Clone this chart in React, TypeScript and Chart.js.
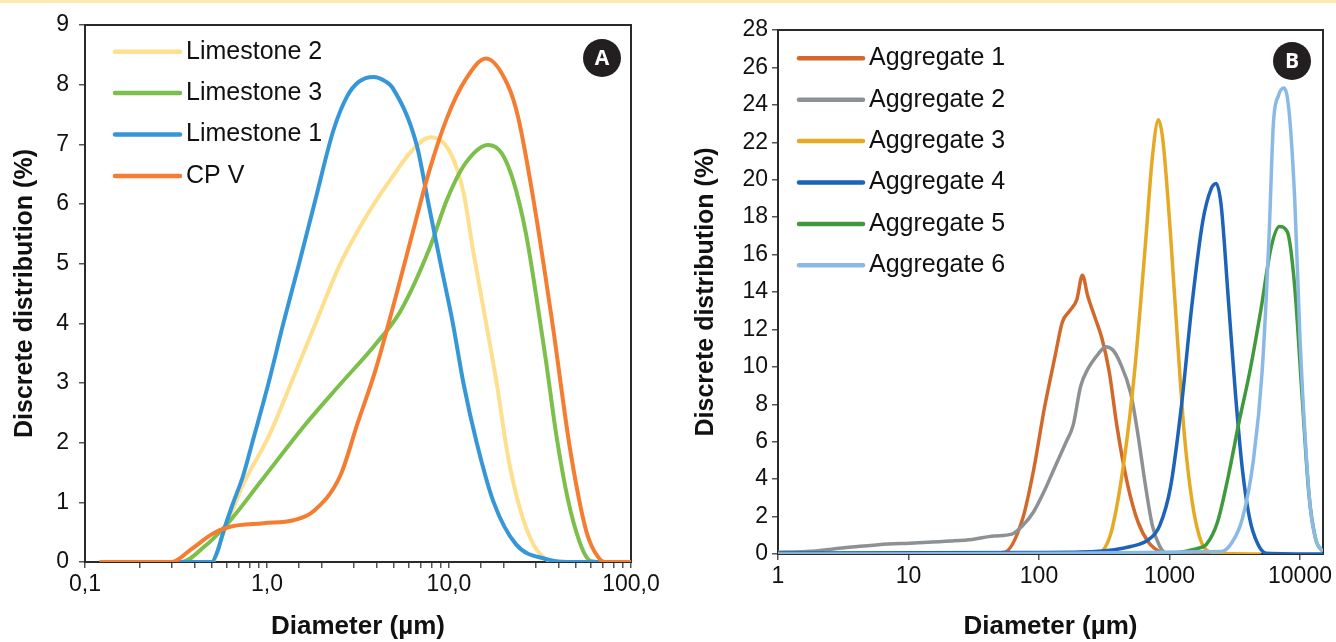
import React, { useEffect, useRef } from "react";
import { Chart, registerables } from "chart.js";

Chart.register(...registerables);

const FONT = "'Liberation Sans', Arial, Helvetica, sans-serif";

// ---------------- Panel A : fines (diameter in µm, discrete distribution in %) ----------------
const limestone2Diam = [0.3, 0.45, 0.497, 0.58, 0.74, 1.02, 1.4, 1.85, 2.53, 3.6, 5.0, 6.2, 7.9, 10, 12, 13.6, 16, 18.5, 21, 24.5, 29, 34, 38];
const limestone2Val = [0, 0, 0, 0.5, 1.3, 2.1, 3.1, 4.0, 5.0, 5.85, 6.5, 6.88, 7.12, 6.9, 6.2, 5.2, 4.0, 2.9, 1.8, 0.9, 0.3, 0.05, 0];

const limestone3Diam = [0.3, 0.34, 0.45, 0.61, 0.935, 1.6, 2.51, 3.95, 5.4, 7.8, 9.8, 12.3, 16.4, 19.5, 22.5, 26.5, 30, 34, 39, 45, 52, 58, 64];
const limestone3Val = [0, 0, 0.25, 0.65, 1.37, 2.28, 2.97, 3.65, 4.2, 5.25, 6.09, 6.68, 6.99, 6.85, 6.4, 5.5, 4.5, 3.4, 2.1, 1.05, 0.35, 0.05, 0];

const limestone1Diam = [0.3, 0.45, 0.497, 0.53, 0.58, 0.65, 0.74, 0.83, 1.02, 1.23, 1.5, 1.82, 2.32, 2.75, 3.2, 3.85, 4.5, 4.89, 6.63, 7.72, 8.99, 10.5, 12.0, 14.2, 17.6, 23.3, 34, 45, 75];
const limestone1Val = [0, 0, 0, 0.15, 0.54, 0.98, 1.45, 2.0, 3.0, 4.0, 5.0, 6.0, 7.24, 7.8, 8.05, 8.13, 8.05, 7.95, 7.0, 6.0, 5.0, 4.0, 3.0, 2.0, 1.0, 0.3, 0.05, 0, 0];

const cpvDiam = [0.12, 0.2, 0.3, 0.378, 0.508, 0.626, 0.956, 1.4, 1.8, 2.53, 3.15, 3.95, 4.95, 6.2, 7.8, 9.8, 12.3, 16, 21, 24, 29, 37, 46.5, 57, 66, 72, 100];
const cpvVal = [0, 0, 0, 0.2, 0.48, 0.59, 0.65, 0.7, 0.85, 1.45, 2.33, 3.22, 4.3, 5.43, 6.56, 7.46, 8.08, 8.44, 8.0, 7.45, 6.1, 4.0, 1.85, 0.5, 0.08, 0, 0];

const panelALabels = ["Limestone 2", "Limestone 3", "Limestone 1", "CP V"];
const panelAColors = ["#fddf8d", "#7cbf4a", "#3597d8", "#f47d31"];
const panelAXTicks = [0.1, 1, 10, 100];
const panelAXTickLabels = ["0,1", "1,0", "10,0", "100,0"];

// ---------------- Panel B : aggregates ----------------
const agg1Diam = [1, 30, 54.6, 75, 91, 110, 133, 151, 172, 195, 215, 236, 268, 304, 346, 394, 476, 574, 695, 841, 1017, 2000];
const agg1Val = [0, 0, 0.1, 1.9, 4.5, 7.8, 10.6, 12.4, 13.0, 13.6, 14.9, 13.8, 12.65, 11.5, 9.7, 6.9, 3.75, 1.7, 0.6, 0.13, 0, 0];

const agg2Diam = [1, 1.65, 3.1, 5.9, 11.1, 21, 30.8, 45, 62, 75, 91, 110, 133, 161, 183, 208, 236, 285, 324, 368, 417, 505, 574, 651, 739, 841, 930, 1000];
const agg2Val = [0.1, 0.13, 0.32, 0.5, 0.59, 0.69, 0.78, 0.96, 1.06, 1.52, 2.26, 3.38, 4.68, 5.97, 6.9, 8.94, 9.87, 10.7, 11.08, 10.9, 10.24, 8.57, 6.35, 3.75, 1.52, 0.41, 0.04, 0];

const agg3Diam = [1, 268, 324, 368, 446, 539, 651, 739, 822, 890, 1017, 1150, 1300, 1490, 1690, 1910, 2330, 5000];
const agg3Val = [0, 0, 0.4, 1.52, 4.86, 9.7, 16.4, 21.2, 23.2, 22.1, 17.1, 11.5, 6.35, 2.8, 0.96, 0.22, 0.04, 0];

const agg4Diam = [1, 100, 268, 505, 695, 841, 1017, 1230, 1490, 1800, 2080, 2280, 2490, 2810, 3200, 3620, 4110, 4700, 5500, 15000];
const agg4Val = [0.05, 0.08, 0.13, 0.4, 0.78, 1.52, 3.56, 7.83, 13.4, 17.8, 19.5, 19.8, 18.6, 13.8, 8.57, 4.5, 1.9, 0.6, 0.04, 0];

const agg5Diam = [1, 959, 1300, 1690, 1910, 2330, 2810, 3420, 4110, 5000, 6010, 6960, 8000, 9100, 10300, 11700, 13200, 15000];
const agg5Val = [0, 0, 0.13, 0.32, 0.5, 1.7, 4.1, 7.1, 9.7, 13.0, 16.4, 17.5, 17.2, 14.3, 8.76, 3.2, 0.78, 0.13];

const agg6Diam = [1, 2490, 3000, 3620, 4400, 5120, 5800, 6250, 6840, 7520, 8200, 9100, 10000, 11000, 12000, 13200, 15000];
const agg6Val = [0, 0.13, 0.6, 1.9, 5.05, 9.7, 17.1, 23.0, 24.5, 24.9, 23.8, 19.0, 11.5, 6.0, 2.45, 0.78, 0.13];

const panelBLabels = ["Aggregate 1", "Aggregate 2", "Aggregate 3", "Aggregate 4", "Aggregate 5", "Aggregate 6"];
const panelBColors = ["#d2692b", "#8d9194", "#e6a923", "#1d63b7", "#3f9a3d", "#8bb9e6"];
const panelBXTicks = [1, 10, 100, 1000, 10000];
const panelBXTickLabels = ["1", "10", "100", "1000", "10000"];

const yTitle = "Discrete distribution (%)";
const xTitle = "Diameter (µm)";

type Series = { label: string; color: string; d: number[]; v: number[] };

function pts(d: number[], v: number[]) {
  return d.map((x, i) => ({ x, y: v[i] }));
}

const decorPlugin = {
  id: "decor",
  beforeDatasetsDraw(chart: any) {
    const { ctx, chartArea: a } = chart;
    ctx.save();
    ctx.strokeStyle = "#2a2a2a";
    ctx.lineWidth = 2;
    ctx.strokeRect(a.left, a.top, a.right - a.left, a.bottom - a.top);
    ctx.restore();
  },
  afterDatasetsDraw(chart: any, _a: any, o: any) {
    const { ctx, chartArea: a } = chart;
    const L = o.legend;
    ctx.save();
    ctx.lineCap = "round";
    chart.data.datasets.forEach((ds: any, i: number) => {
      const y = a.top + L.dy + i * L.gap;
      ctx.strokeStyle = ds.borderColor;
      ctx.lineWidth = L.lw;
      ctx.beginPath();
      ctx.moveTo(a.left + L.dx, y);
      ctx.lineTo(a.left + L.dx + L.len, y);
      ctx.stroke();
      ctx.fillStyle = "#111";
      ctx.font = `${L.size}px ${FONT}`;
      ctx.textAlign = "left";
      ctx.textBaseline = "middle";
      ctx.fillText(ds.label, a.left + L.textDx, y);
    });
    const B = o.badge;
    const cx = a.right + B.dx;
    const cy = a.top + B.dy;
    ctx.fillStyle = "#231f20";
    ctx.beginPath();
    ctx.arc(cx, cy, B.r, 0, Math.PI * 2);
    ctx.fill();
    ctx.fillStyle = "#fff";
    ctx.font = `bold ${B.size}px 'Open Sans', ${FONT}`;
    ctx.textAlign = "center";
    ctx.textBaseline = "middle";
    ctx.fillText(B.letter, cx, cy + 1);
    ctx.restore();
  },
};

type PanelProps = {
  left: number;
  width: number;
  series: Series[];
  xMin: number;
  xMax: number;
  yMax: number;
  yStep: number;
  xTicks: number[];
  xTickLabels: string[];
  onlyMajor: boolean;
  padTop: number;
  padRight: number;
  yAxisWidth: number;
  xAxisHeight: number;
  yTitlePad: number;
  yTickPad: number;
  lineWidth: number;
  legend: any;
  badge: any;
};

function Panel(p: PanelProps) {
  const ref = useRef<HTMLCanvasElement>(null);
  useEffect(() => {
    const n = p.series.length;
    const tickColor = "#555";
    const chart = new Chart(ref.current as HTMLCanvasElement, {
      type: "line",
      data: {
        datasets: p.series.map((s, i) => ({
          label: s.label,
          data: pts(s.d, s.v),
          borderColor: s.color,
          backgroundColor: s.color,
          borderWidth: p.lineWidth,
          pointRadius: 0,
          cubicInterpolationMode: "monotone",
          fill: false,
          order: n - i,
        })),
      },
      options: {
        responsive: false,
        animation: false,
        events: [],
        layout: { padding: { top: p.padTop, right: p.padRight, left: 0, bottom: 0 } },
        plugins: {
          legend: { display: false },
          tooltip: { enabled: false },
          decor: { legend: p.legend, badge: p.badge },
        } as any,
        scales: {
          x: {
            type: "logarithmic",
            min: p.xMin,
            max: p.xMax,
            afterFit: (s: any) => {
              s.height = p.xAxisHeight;
            },
            afterBuildTicks: (s: any) => {
              if (p.onlyMajor) s.ticks = p.xTicks.map((v) => ({ value: v }));
            },
            grid: { display: true, drawOnChartArea: false, drawTicks: true, tickLength: 6, color: tickColor, lineWidth: 1.5 },
            border: { display: true, color: "#2a2a2a", width: 2 },
            ticks: {
              autoSkip: false,
              maxRotation: 0,
              minRotation: 0,
              padding: 3,
              color: "#111",
              font: { family: FONT, size: 23 },
              callback: (value: any) => {
                const idx = p.xTicks.findIndex((t) => Math.abs(t - value) / t < 1e-6);
                return idx >= 0 ? p.xTickLabels[idx] : "";
              },
            },
            title: {
              display: true,
              text: xTitle,
              color: "#111",
              font: { family: FONT, size: 26, weight: "bold" },
              padding: { top: 0, bottom: 0 },
            },
          },
          y: {
            type: "linear",
            min: 0,
            max: p.yMax,
            afterFit: (s: any) => {
              s.width = p.yAxisWidth;
            },
            grid: { display: true, drawOnChartArea: false, drawTicks: true, tickLength: 6, color: tickColor, lineWidth: 1.5 },
            border: { display: true, color: "#2a2a2a", width: 2 },
            ticks: {
              stepSize: p.yStep,
              padding: p.yTickPad,
              color: "#111",
              font: { family: FONT, size: 23 },
            },
            title: {
              display: true,
              text: yTitle,
              color: "#111",
              font: { family: FONT, size: 25, weight: "bold" },
              padding: { top: p.yTitlePad, bottom: 0 },
            },
          },
        },
      } as any,
      plugins: [decorPlugin as any],
    });
    return () => chart.destroy();
  }, []);
  return (
    <canvas
      ref={ref}
      width={p.width}
      height={642}
      style={{ position: "absolute", left: p.left, top: 0, width: p.width, height: 642 }}
    />
  );
}

const seriesA: Series[] = [
  { label: panelALabels[0], color: panelAColors[0], d: limestone2Diam, v: limestone2Val },
  { label: panelALabels[1], color: panelAColors[1], d: limestone3Diam, v: limestone3Val },
  { label: panelALabels[2], color: panelAColors[2], d: limestone1Diam, v: limestone1Val },
  { label: panelALabels[3], color: panelAColors[3], d: cpvDiam, v: cpvVal },
];

const seriesB: Series[] = [
  { label: panelBLabels[0], color: panelBColors[0], d: agg1Diam, v: agg1Val },
  { label: panelBLabels[1], color: panelBColors[1], d: agg2Diam, v: agg2Val },
  { label: panelBLabels[2], color: panelBColors[2], d: agg3Diam, v: agg3Val },
  { label: panelBLabels[3], color: panelBColors[3], d: agg4Diam, v: agg4Val },
  { label: panelBLabels[4], color: panelBColors[4], d: agg5Diam, v: agg5Val },
  { label: panelBLabels[5], color: panelBColors[5], d: agg6Diam, v: agg6Val },
];

export default function App() {
  return (
    <div style={{ position: "absolute", left: 0, top: 0, width: 1336, height: 642, background: "#fff", overflow: "hidden" }}>
      <div style={{ position: "absolute", left: 0, top: 0, width: 1336, height: 3, background: "#fde9b2" }} />
      <Panel
        left={0}
        width={668}
        series={seriesA}
        xMin={0.1}
        xMax={100}
        yMax={9}
        yStep={1}
        xTicks={panelAXTicks}
        xTickLabels={panelAXTickLabels}
        onlyMajor={false}
        padTop={25}
        padRight={37}
        yAxisWidth={85}
        xAxisHeight={80}
        yTitlePad={10}
        yTickPad={10}
        lineWidth={4}
        legend={{ dx: 30, textDx: 101, dy: 26.7, gap: 41.4, len: 65, lw: 4.5, size: 25 }}
        badge={{ letter: "A", dx: -29, dy: 33, r: 19, size: 21 }}
      />
      <Panel
        left={668}
        width={668}
        series={seriesB}
        xMin={1}
        xMax={15000}
        yMax={28}
        yStep={2}
        xTicks={panelBXTicks}
        xTickLabels={panelBXTickLabels}
        onlyMajor={true}
        padTop={30}
        padRight={13}
        yAxisWidth={110}
        xAxisHeight={88}
        yTitlePad={23}
        yTickPad={4}
        lineWidth={3.5}
        legend={{ dx: 21, textDx: 91, dy: 28.3, gap: 41.4, len: 64, lw: 4.5, size: 25 }}
        badge={{ letter: "B", dx: -31, dy: 31, r: 19, size: 21 }}
      />
    </div>
  );
}
